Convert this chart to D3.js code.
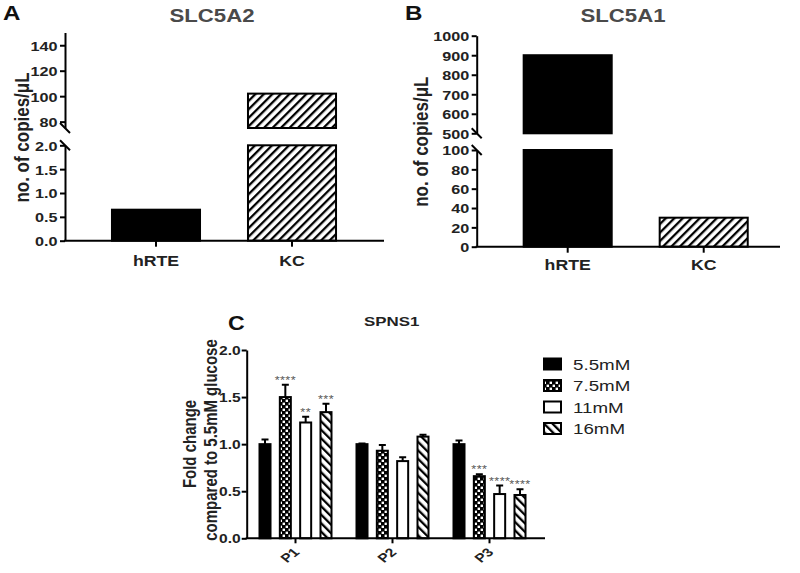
<!DOCTYPE html>
<html>
<head>
<meta charset="utf-8">
<script src="https://cdn.jsdelivr.net/npm/d3@7"></script>
<style>
  body { margin: 0; background: #fff; }
  svg { display: block; font-family: "Liberation Sans", Arial, sans-serif; }
</style>
</head>
<body>
<svg width="800" height="573"></svg>
<script>
// ---- data ----
const cells = ["hRTE", "KC"];

// A: SLC5A2 copies/uL (broken y axis)
const slc5a2Values = [0.65, 102];
const slc5a2LowDomain = [0, 2];
const slc5a2HighDomain = [75, 150];
const slc5a2LowTicks = [0, 0.5, 1.0, 1.5, 2.0];
const slc5a2HighTicks = [80, 100, 120, 140];

// B: SLC5A1 copies/uL (broken y axis)
const slc5a1Values = [900, 30];
const slc5a1LowDomain = [0, 100];
const slc5a1HighDomain = [500, 1000];
const slc5a1LowTicks = [0, 20, 40, 60, 80, 100];
const slc5a1HighTicks = [500, 600, 700, 800, 900, 1000];

// C: SPNS1 fold change
const passages = ["P1", "P2", "P3"];
const glucose = ["5.5mM", "7.5mM", "11mM", "16mM"];
const spns1Mean = [
  [1.00, 1.50, 1.23, 1.34],
  [1.00, 0.93, 0.82, 1.08],
  [1.00, 0.66, 0.47, 0.46]
];
const spns1Err = [
  [0.05, 0.13, 0.06, 0.09],
  [0.006, 0.06, 0.04, 0.02],
  [0.04, 0.02, 0.09, 0.06]
];
const spns1Stars = [
  ["", "****", "**", "***"],
  ["", "", "", ""],
  ["", "***", "****", "****"]
];
const spns1Ticks = [0, 0.5, 1.0, 1.5, 2.0];

// ---- setup ----
const svg = d3.select("svg");
const defs = svg.append("defs");

function hatch(id, angle) {
  const p = defs.append("pattern")
    .attr("id", id)
    .attr("patternUnits", "userSpaceOnUse")
    .attr("width", 6).attr("height", 6)
    .attr("patternTransform", `rotate(${angle})`);
  p.append("rect").attr("width", 6).attr("height", 6).attr("fill", "#fff");
  p.append("rect").attr("width", 2.3).attr("height", 6).attr("fill", "#000");
}
hatch("hatchUp", 45);
hatch("hatchDown", -45);

const ck = defs.append("pattern")
  .attr("id", "checker")
  .attr("patternUnits", "userSpaceOnUse")
  .attr("width", 6).attr("height", 6);
ck.append("rect").attr("width", 6).attr("height", 6).attr("fill", "#000");
ck.append("rect").attr("x", 0.6).attr("y", 0.6).attr("width", 2.4).attr("height", 2.4).attr("fill", "#fff");
ck.append("rect").attr("x", 3.6).attr("y", 3.6).attr("width", 2.4).attr("height", 2.4).attr("fill", "#fff");

// text helper: stretched horizontally like the source figure
function label(g, x, y, str, o) {
  const sx = o.sx || 1;
  return g.append("text")
    .attr("transform", `translate(${x},${y}) scale(${sx},1)` + (o.rotate ? ` rotate(${o.rotate})` : ""))
    .attr("text-anchor", o.anchor || "middle")
    .attr("font-size", o.size)
    .attr("font-weight", o.weight || "bold")
    .attr("fill", o.fill || "#222")
    .attr("letter-spacing", o.ls || null)
    .text(str);
}

function styleAxis(sel, size, sx, pad) {
  sel.select(".domain").attr("stroke", "#000").attr("stroke-width", 2);
  sel.selectAll(".tick line").attr("stroke", "#000").attr("stroke-width", 2);
  sel.selectAll(".tick text")
    .attr("font-size", size)
    .attr("font-weight", "bold")
    .attr("font-family", null)
    .attr("fill", "#222")
    .attr("x", -pad / sx)
    .attr("dy", "0.36em")
    .attr("transform", `scale(${sx},1)`);
}

// ---- panels A and B ----
function brokenPanel(cfg) {
  const g = svg.append("g");
  const x = d3.scaleBand().domain(cells)
    .range([cfg.axisX, cfg.axisX + 318])
    .paddingInner(0.338).paddingOuter(0.338);
  const low = d3.scaleLinear().domain(cfg.lowDomain).range([cfg.baseY, cfg.lowTop]);
  const high = d3.scaleLinear().domain(cfg.highDomain).range([cfg.highBottom, cfg.highTop]);
  const rows = cfg.values.map((v, i) => ({ v: v, c: cells[i], i: i }));

  [low, high].forEach(seg => {
    const [d0, d1] = seg.domain();
    g.append("g").selectAll("rect")
      .data(rows.filter(d => d.v > d0))
      .join("rect")
      .attr("x", d => x(d.c) + 1)
      .attr("width", x.bandwidth() - 2)
      .attr("y", d => seg(Math.min(d.v, d1)))
      .attr("height", d => seg(d0) - seg(Math.min(d.v, d1)))
      .attr("fill", d => d.i === 0 ? "#000" : "url(#hatchUp)")
      .attr("stroke", "#000")
      .attr("stroke-width", 2);
  });

  const aLow = g.append("g").attr("transform", `translate(${cfg.axisX},0)`)
    .call(d3.axisLeft(low).tickValues(cfg.lowTicks).tickSize(5).tickSizeOuter(0).tickFormat(cfg.fmt));
  const aHigh = g.append("g").attr("transform", `translate(${cfg.axisX},0)`)
    .call(d3.axisLeft(high).tickValues(cfg.highTicks).tickSize(5).tickSizeOuter(0).tickFormat(d3.format("d")));
  styleAxis(aLow, 13.5, 1.2, 7.5);
  styleAxis(aHigh, 13.5, 1.2, 7.5);

  // break marks
  [cfg.highBottom, cfg.lowTop].forEach(yb => {
    g.append("line")
      .attr("x1", cfg.axisX - 5).attr("y1", yb - 5)
      .attr("x2", cfg.axisX + 5).attr("y2", yb + 5)
      .attr("stroke", "#000").attr("stroke-width", 2);
  });

  // x axis
  g.append("line")
    .attr("x1", cfg.axisX - 1).attr("x2", cfg.xEnd)
    .attr("y1", cfg.baseY).attr("y2", cfg.baseY)
    .attr("stroke", "#000").attr("stroke-width", 2);
  cells.forEach(c => {
    const cx = x(c) + x.bandwidth() / 2;
    g.append("line").attr("x1", cx).attr("x2", cx)
      .attr("y1", cfg.baseY).attr("y2", cfg.baseY + 6)
      .attr("stroke", "#000").attr("stroke-width", 2);
    label(g, cx, cfg.labelY, c, { size: 15, sx: 1.18 });
  });

  label(g, cfg.letterX, 20, cfg.letter, { size: 21, sx: 1.15, anchor: "start", fill: "#111" });
  label(g, cfg.titleX, 21.5, cfg.title, { size: 18.5, sx: 1.2, fill: "#4a4a4a" });
  label(g, cfg.yLabelX, cfg.yLabelY, "no. of copies/\u03bcL", { size: 17, sx: 1.15, rotate: -90 });
}

brokenPanel({
  values: slc5a2Values,
  lowDomain: slc5a2LowDomain, highDomain: slc5a2HighDomain,
  lowTicks: slc5a2LowTicks, highTicks: slc5a2HighTicks,
  fmt: d3.format(".1f"),
  axisX: 65, baseY: 240.7, lowTop: 145.3, highBottom: 128, highTop: 32.5,
  xEnd: 384, labelY: 266,
  letter: "A", letterX: 3, title: "SLC5A2", titleX: 212,
  yLabelX: 29, yLabelY: 137.5
});

brokenPanel({
  values: slc5a1Values,
  lowDomain: slc5a1LowDomain, highDomain: slc5a1HighDomain,
  lowTicks: slc5a1LowTicks, highTicks: slc5a1HighTicks,
  fmt: d3.format("d"),
  axisX: 476.7, baseY: 246.7, lowTop: 150, highBottom: 133.3, highTop: 35.7,
  xEnd: 780, labelY: 270,
  letter: "B", letterX: 405, title: "SLC5A1", titleX: 623,
  yLabelX: 428, yLabelY: 141.7
});

// ---- panel C ----
const gc = svg.append("g");
const cAxisX = 246.7, cBase = 538.3, cTop = 350, cEnd = 545;
const yC = d3.scaleLinear().domain([0, 2]).range([cBase, cTop]);
const xC = d3.scalePoint().domain(passages).range([247, 538]).padding(0.5);
const xIn = d3.scaleBand().domain(glucose).range([-37, 37]).paddingInner(0.36);
const fills = ["#000", "url(#checker)", "#fff", "url(#hatchDown)"];

const cRows = [];
passages.forEach((p, i) => glucose.forEach((s, j) => {
  cRows.push({ p: p, s: s, j: j, m: spns1Mean[i][j], e: spns1Err[i][j], star: spns1Stars[i][j] });
}));
cRows.forEach(d => { d.cx = xC(d.p) + xIn(d.s) + xIn.bandwidth() / 2; });

// error bars (drawn under bars so only the upper whisker shows)
gc.append("g").selectAll("path")
  .data(cRows)
  .join("path")
  .attr("d", d => `M${d.cx},${yC(d.m)}V${yC(d.m + d.e)}M${d.cx - 3.5},${yC(d.m + d.e)}H${d.cx + 3.5}`)
  .attr("stroke", "#000").attr("stroke-width", 2).attr("fill", "none");

gc.append("g").selectAll("rect")
  .data(cRows)
  .join("rect")
  .attr("x", d => xC(d.p) + xIn(d.s) + 1)
  .attr("width", xIn.bandwidth() - 2)
  .attr("y", d => yC(d.m))
  .attr("height", d => cBase - yC(d.m))
  .attr("fill", d => fills[d.j])
  .attr("stroke", "#000").attr("stroke-width", 2);

cRows.filter(d => d.star).forEach(d => {
  label(gc, d.cx, yC(d.m + d.e) - 1, d.star, { size: 11.5, sx: 1.1, weight: "normal", fill: "#555", ls: 0.4 });
});

const aC = gc.append("g").attr("transform", `translate(${cAxisX},0)`)
  .call(d3.axisLeft(yC).tickValues(spns1Ticks).tickSize(5).tickSizeOuter(0).tickFormat(d3.format(".1f")));
styleAxis(aC, 12, 1.3, 6);

gc.append("line")
  .attr("x1", cAxisX - 1).attr("x2", cEnd)
  .attr("y1", cBase).attr("y2", cBase)
  .attr("stroke", "#000").attr("stroke-width", 2);
passages.forEach(p => {
  gc.append("line").attr("x1", xC(p)).attr("x2", xC(p))
    .attr("y1", cBase).attr("y2", cBase + 5)
    .attr("stroke", "#000").attr("stroke-width", 2);
  label(gc, xC(p) + 5, 553, p, { size: 12, sx: 1.3, rotate: -45, anchor: "end" });
});

label(gc, 228, 330, "C", { size: 21, sx: 1.1, anchor: "start", fill: "#111" });
label(gc, 391.7, 326, "SPNS1", { size: 13, sx: 1.3 });
label(gc, 196, 444, "Fold change", { size: 15, sx: 1.2, rotate: -90 });
label(gc, 217, 440, "compared to 5.5mM glucose", { size: 15, sx: 1.2, rotate: -90 });

// legend
const legendY = [364, 385.5, 407, 428.5];
glucose.forEach((s, j) => {
  gc.append("rect")
    .attr("x", 544).attr("y", legendY[j] - 5.5)
    .attr("width", 17).attr("height", 11)
    .attr("fill", fills[j])
    .attr("stroke", "#000").attr("stroke-width", 2);
  label(gc, 573, legendY[j] + 5.5, s, { size: 15, sx: 1.25, weight: "normal", anchor: "start", fill: "#222" });
});
</script>
</body>
</html>
